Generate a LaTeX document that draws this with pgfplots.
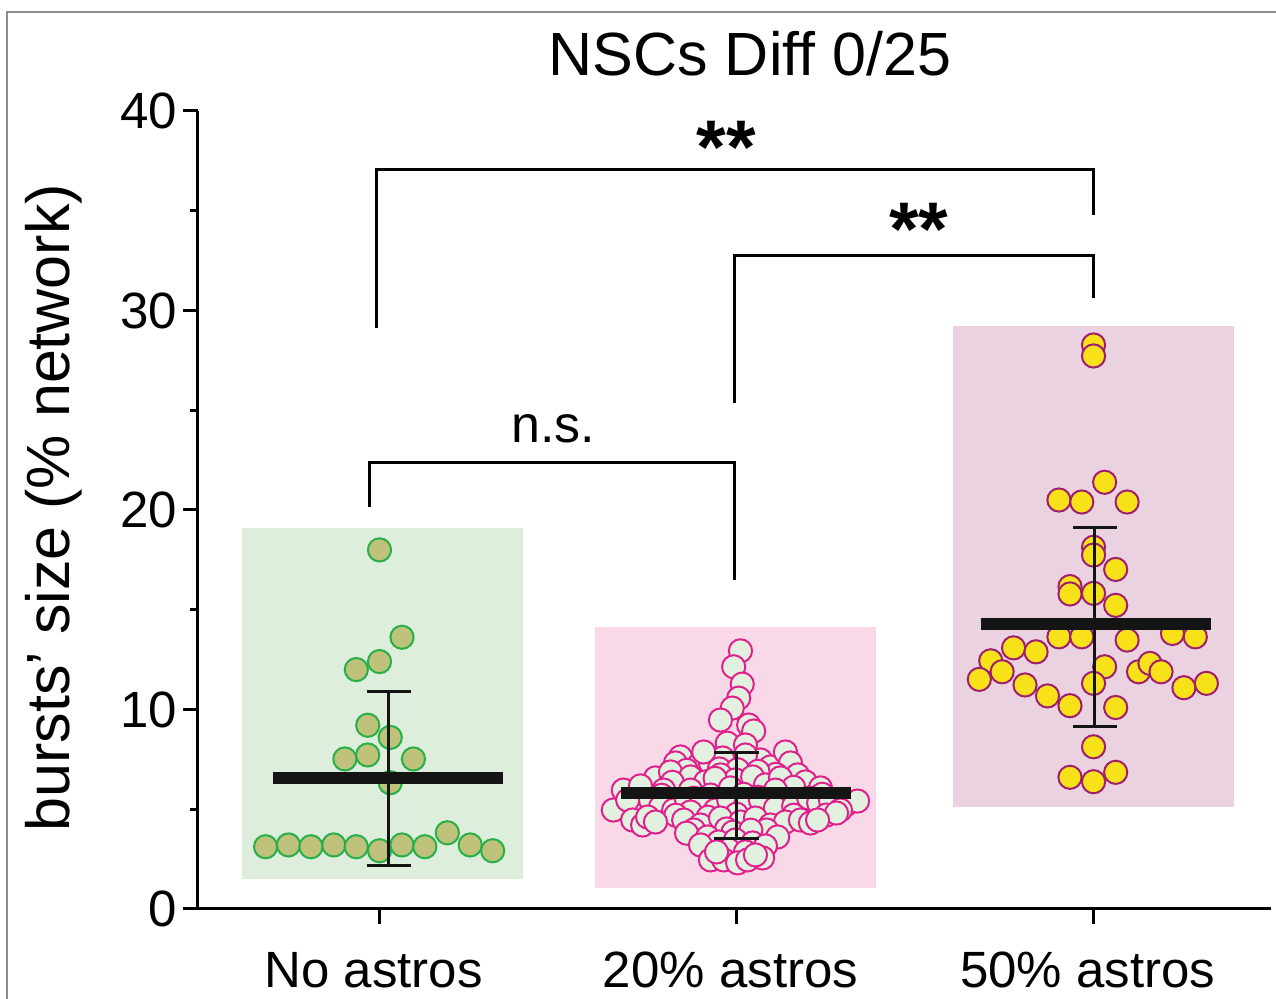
\documentclass[border=0pt]{standalone}
\usepackage{fontspec}
\setmainfont{Liberation Sans}
\usepackage{pgfplots}
\usepackage{pgfplotstable}
\pgfplotsset{compat=1.18}

\definecolor{boxGreen}{RGB}{221,238,220}
\definecolor{boxPink}{RGB}{249,217,231}
\definecolor{boxMauve}{RGB}{235,210,224}
\definecolor{dotOlive}{RGB}{190,194,122}
\definecolor{edgeGreen}{RGB}{40,176,72}
\definecolor{dotMint}{RGB}{226,240,224}
\definecolor{edgeMagenta}{RGB}{224,32,140}
\definecolor{dotYellow}{RGB}{247,226,26}
\definecolor{edgePurple}{RGB}{160,30,110}

% no astros
\pgfplotstableread{
x y
1.000 18.00
1.063 13.62
1.000 12.40
0.935 12.00
0.967 9.21
1.030 8.60
0.967 7.72
0.903 7.52
1.095 7.52
1.030 6.33
0.681 3.12
0.745 3.21
0.808 3.12
0.872 3.21
0.935 3.12
1.000 2.92
1.063 3.21
1.127 3.12
1.190 3.82
1.254 3.21
1.317 2.92
}\noastros

% 20% astros
\pgfplotstableread{
x y
2.011 12.94
1.992 12.14
2.016 11.27
2.006 10.57
1.988 10.07
1.955 9.47
2.034 9.22
2.048 8.92
1.974 8.31
2.025 8.22
1.843 7.62
1.829 7.32
1.894 7.22
1.927 7.32
1.961 7.57
2.067 7.47
2.095 7.12
2.137 7.87
2.151 7.32
2.171 6.72
1.908 7.87
2.025 7.72
1.952 7.02
2.003 6.98
2.110 6.75
1.860 6.95
2.060 6.90
1.773 6.57
1.815 6.87
1.871 6.62
1.913 6.37
1.955 6.72
1.997 6.47
2.045 6.62
2.081 6.22
2.123 6.57
2.193 6.37
1.820 6.35
1.940 6.55
2.160 6.10
1.871 5.96
1.683 5.96
1.796 5.96
1.731 6.17
2.235 6.07
2.109 5.96
1.983 6.07
1.927 5.71
2.020 5.75
1.790 5.70
2.240 5.75
1.880 5.55
2.060 5.60
2.140 5.40
1.960 5.30
1.655 4.96
1.695 5.46
1.759 5.46
1.787 5.11
1.824 4.96
1.860 5.46
1.899 5.21
1.941 4.96
1.978 5.46
2.025 5.21
2.067 5.46
2.109 5.06
2.160 5.16
2.202 5.56
2.230 5.31
2.263 5.46
2.305 5.21
2.339 5.41
2.291 4.96
2.252 4.71
2.280 4.81
1.871 4.86
1.830 4.70
1.920 4.60
2.000 4.75
2.160 4.70
1.709 4.46
1.737 4.21
1.751 4.61
1.773 4.36
1.852 4.46
1.899 4.21
1.955 4.56
2.011 4.36
2.053 4.56
2.095 4.21
2.137 4.36
2.179 4.46
2.207 4.31
2.227 4.46
1.880 3.96
2.084 3.96
1.972 4.01
1.860 3.80
1.990 3.85
2.040 3.95
1.919 3.61
2.115 3.61
1.950 3.36
1.997 3.46
2.045 3.31
1.899 3.21
2.081 3.16
1.978 2.96
2.025 2.86
1.927 2.46
1.964 2.46
2.003 2.31
2.031 2.46
2.073 2.56
1.944 2.86
2.053 2.71
}\twenty

% 50% astros
\pgfplotstableread{
x y
3.000 28.27
3.000 27.72
3.031 21.39
2.903 20.50
2.967 20.40
3.094 20.40
3.000 18.13
3.000 17.74
3.062 17.02
2.934 16.16
2.934 15.79
3.000 15.82
3.062 15.22
2.903 13.64
2.967 13.64
3.094 13.48
3.221 13.81
3.285 13.64
2.776 13.09
2.839 12.89
2.712 12.44
2.744 11.89
2.680 11.51
3.031 12.14
3.000 11.31
3.126 11.89
3.158 12.31
3.189 11.89
3.253 11.09
3.316 11.31
2.808 11.23
2.871 10.68
2.934 10.19
3.062 10.10
3.000 8.13
2.934 6.60
3.000 6.38
3.062 6.85
}\fifty

\begin{document}
\begin{tikzpicture}
\path[use as bounding box] (-99pt,-45pt) rectangle (539pt,454.5pt);
\draw[black!45, line width=0.8pt] (-95.5pt,-50pt) -- (-95.5pt,448.5pt) -- (545pt,448.5pt);
\begin{axis}[
  scale only axis, width=536.5pt, height=399pt,
  xmin=0.4916, xmax=3.497, ymin=0, ymax=40,
  axis x line*=bottom, axis y line*=left,
  axis line style={line width=1.5pt, black},
  tick style={line width=1.5pt, black},
  tick align=outside,
  major tick length=7.5pt, minor tick length=4pt,
  xtick={1,2,3}, xticklabels={No astros, 20\% astros, 50\% astros},
  ytick={0,10,20,30,40}, minor ytick={5,15,25,35},
  /pgf/number format/assume math mode=true,
  xticklabel style={font=\fontsize{25.5}{25.5}\selectfont, yshift=-10.5pt, xshift=-3pt},
  yticklabel style={font=\fontsize{25.5}{25.5}\selectfont, xshift=0.5pt},
  ylabel={bursts’ size (\% network)},
  ylabel style={font=\fontsize{30.5}{30.5}\selectfont, at={(axis description cs:-0.134,0.503)}, anchor=center},
  title={NSCs Diff 0/25},
  title style={font=\fontsize{30.5}{30.5}\selectfont, at={(axis description cs:0.5144,1.029)}, anchor=base},
  clip=false, clip marker paths=true,
]
% background boxes
\addplot[fill=boxGreen, draw=none] coordinates {(0.615,1.5) (1.402,1.5) (1.402,19.1) (0.615,19.1)} -- cycle;
\addplot[fill=boxPink, draw=none] coordinates {(1.604,1.05) (2.391,1.05) (2.391,14.15) (1.604,14.15)} -- cycle;
\addplot[fill=boxMauve, draw=none] coordinates {(2.607,5.13) (3.394,5.13) (3.394,29.22) (2.607,29.22)} -- cycle;

% points
\addplot[only marks, mark=*, mark size=5.8pt, mark options={fill=dotOlive, draw=edgeGreen, line width=1pt}] table {\noastros};
\addplot[only marks, mark=*, mark size=5.8pt, mark options={fill=dotMint, draw=edgeMagenta, line width=1pt}] table {\twenty};
\addplot[only marks, mark=*, mark size=5.8pt, mark options={fill=dotYellow, draw=edgePurple, line width=1pt}] table {\fifty};

% means
\addplot[black!92, line width=6pt] coordinates {(0.702,6.58) (1.346,6.58)};
\addplot[black!92, line width=6pt] coordinates {(1.676,5.80) (2.320,5.80)};
\addplot[black!92, line width=6pt] coordinates {(2.684,14.27) (3.328,14.27)};

% SD bars
\addplot[black!92, line width=1.5pt] coordinates {(1.026,2.17) (1.026,10.89)};
\addplot[black!92, line width=1.5pt] coordinates {(0.964,10.89) (1.088,10.89)};
\addplot[black!92, line width=1.5pt] coordinates {(0.964,2.17) (1.088,2.17)};
\addplot[black!92, line width=1.5pt] coordinates {(2.000,3.54) (2.000,7.85)};
\addplot[black!92, line width=1.5pt] coordinates {(1.938,7.85) (2.062,7.85)};
\addplot[black!92, line width=1.5pt] coordinates {(1.938,3.54) (2.062,3.54)};
\addplot[black!92, line width=1.5pt] coordinates {(3.004,9.14) (3.004,19.11)};
\addplot[black!92, line width=1.5pt] coordinates {(2.942,19.11) (3.066,19.11)};
\addplot[black!92, line width=1.5pt] coordinates {(2.942,9.14) (3.066,9.14)};

% significance brackets
\addplot[black, line width=1.5pt] coordinates {(0.991,29.11) (0.991,37.07) (2.999,37.07) (2.999,34.79)};
\addplot[black, line width=1.5pt] coordinates {(1.995,25.34) (1.995,32.75) (2.999,32.75) (2.999,30.64)};
\addplot[black, line width=1.5pt] coordinates {(0.972,20.15) (0.972,22.37) (1.995,22.37) (1.995,16.49)};

\node[font=\fontsize{38}{38}\selectfont\bfseries, anchor=center] at (axis cs:1.971,38.2) {**};
\node[font=\fontsize{38}{38}\selectfont\bfseries, anchor=center] at (axis cs:2.511,34.05) {**};
\node[font=\fontsize{26}{26}\selectfont, anchor=base] at (axis cs:1.486,23.36) {n.s.};
\end{axis}
\end{tikzpicture}
\end{document}
